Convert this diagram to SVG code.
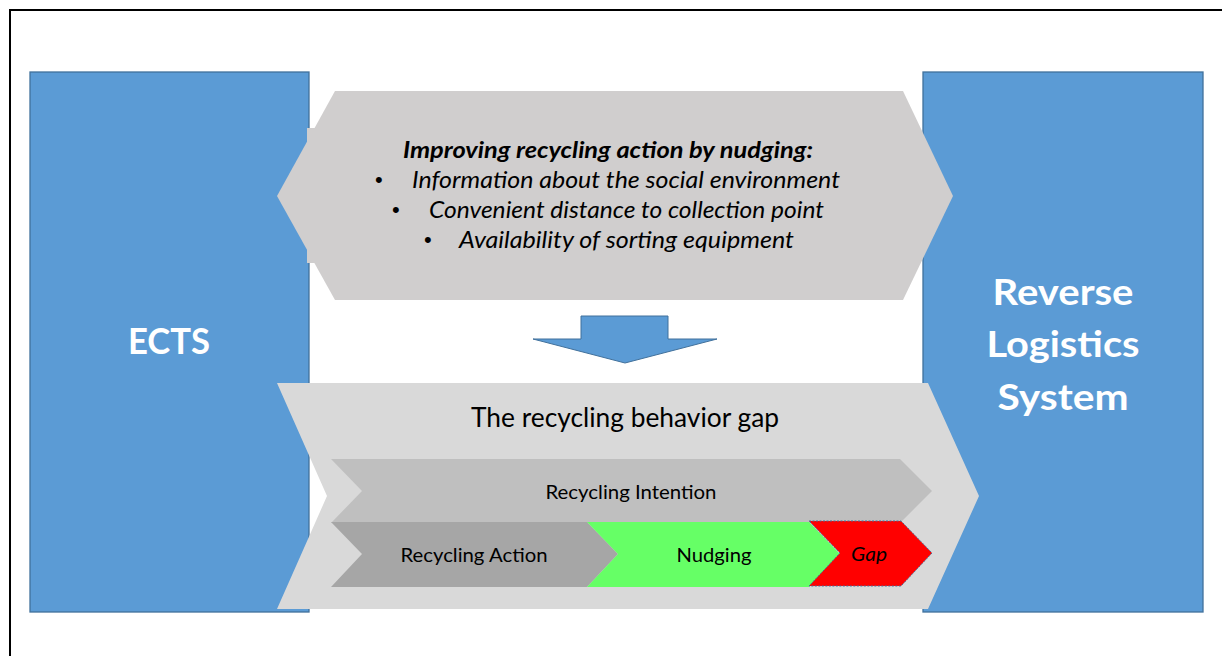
<svg xmlns="http://www.w3.org/2000/svg" width="1222" height="656" viewBox="0 0 1222 656">
  <style>
    .box { fill: #5B9BD5; stroke: #41719C; stroke-width: 1.3; }
    .big { font-family: Lato, "Liberation Sans", sans-serif; font-weight: bold; font-size: 36px; fill: #FFFFFF; text-anchor: middle; }
    .body { font-family: Lato, "Liberation Sans", sans-serif; font-size: 23px; fill: #000000; }
    .dot { font-family: "Liberation Sans", sans-serif; font-size: 22px; fill: #000000; }
    .lbl { font-family: Lato, "Liberation Sans", sans-serif; font-size: 19px; fill: #000000; text-anchor: middle; }
    .title { font-size: 26px; }
    .it { font-style: italic; }
    .bold { font-weight: bold; }
  </style>

  <!-- outer frame -->
  <path d="M10,656 V10 H1222" fill="none" stroke="#000000" stroke-width="2"/>

  <!-- side columns -->
  <g id="ects">
    <rect class="box" x="30" y="72" width="279" height="540"/>
  </g>
  <g id="reverse-logistics">
    <rect class="box" x="923" y="72" width="280" height="540"/>
  </g>

  <!-- nudging measures -->
  <g id="nudging-measures">
    <polygon points="335,91 903,91 953,196 903,300 335,300 277,196" fill="#D0CECE"/>
    <rect x="307" y="128" width="400" height="135" fill="#D0CECE"/>
    <text class="body it bold" x="608" y="158" text-anchor="middle" textLength="410" lengthAdjust="spacingAndGlyphs">Improving recycling action by nudging:</text>
    <text class="dot" x="375" y="187">•</text>
    <text class="body it" x="412" y="188" textLength="428" lengthAdjust="spacingAndGlyphs">Information about the social environment</text>
    <text class="dot" x="392" y="217">•</text>
    <text class="body it" x="429" y="218" textLength="395" lengthAdjust="spacingAndGlyphs">Convenient distance to collection point</text>
    <text class="dot" x="424" y="247">•</text>
    <text class="body it" x="459" y="248" textLength="335" lengthAdjust="spacingAndGlyphs">Availability of sorting equipment</text>
  </g>

  <!-- connector -->
  <g id="connectors">
    <polygon points="581,316 668,316 668,339 717,339 625,363 533,339 581,339" fill="#5B9BD5" stroke="#41719C" stroke-width="1"/>
  </g>

  <!-- behaviour gap -->
  <g id="behavior-gap">
    <polygon points="277,383 928,383 979,496 928,609 277,609 327,496" fill="#D9D9D9"/>
    <text class="lbl title" x="625" y="427" textLength="308" lengthAdjust="spacingAndGlyphs">The recycling behavior gap</text>
  </g>

  <g id="recycling-intention">
    <polygon points="331,459 900,459 932,491 900,523 331,523 362,491" fill="#BFBFBF"/>
    <text class="lbl" x="631" y="499" textLength="171" lengthAdjust="spacingAndGlyphs">Recycling Intention</text>
  </g>

  <g id="recycling-action">
    <polygon points="331,522 587,522 618,554 587,587 331,587 362,554" fill="#A6A6A6"/>
    <text class="lbl" x="474" y="562" textLength="147" lengthAdjust="spacingAndGlyphs">Recycling Action</text>
  </g>

  <g id="nudging">
    <polygon points="587,522 809,522 840,554 809,587 587,587 618,554" fill="#66FF66"/>
    <text class="lbl" x="714" y="562" textLength="75" lengthAdjust="spacingAndGlyphs">Nudging</text>
  </g>

  <g id="gap">
    <polygon points="809,521 901,521 932,553 901,586 809,586 840,553" fill="#FF0000" stroke="#41719C" stroke-width="1" stroke-dasharray="2,1.5"/>
    <text class="lbl it" x="869" y="561" textLength="36" lengthAdjust="spacingAndGlyphs">Gap</text>
  </g>

  <!-- column titles -->
  <text class="big" x="169" y="354" textLength="82" lengthAdjust="spacingAndGlyphs">ECTS</text>
  <text class="big" x="1063" y="305" textLength="141" lengthAdjust="spacingAndGlyphs">Reverse</text>
  <text class="big" x="1063" y="357" textLength="153" lengthAdjust="spacingAndGlyphs">Logistics</text>
  <text class="big" x="1063" y="410" textLength="131" lengthAdjust="spacingAndGlyphs">System</text>
</svg>
